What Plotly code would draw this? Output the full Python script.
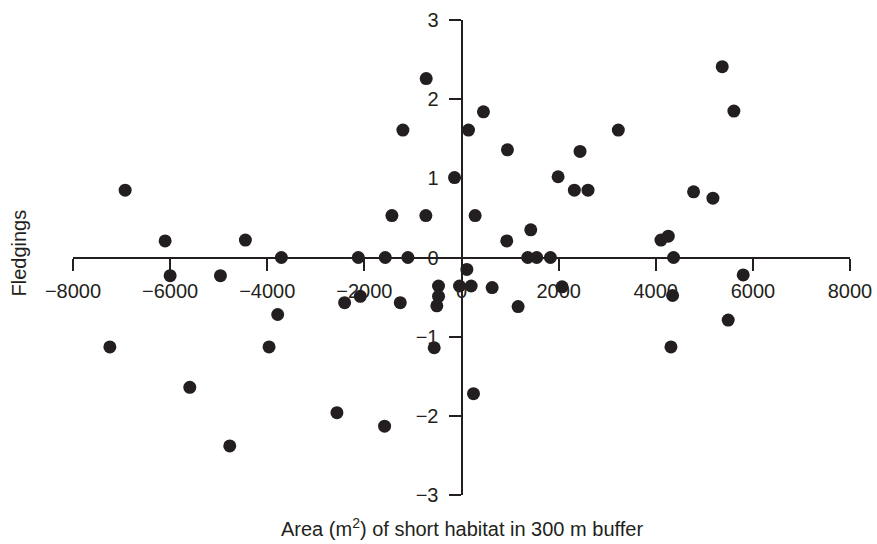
import plotly.graph_objects as go

# Area (m^2) of short habitat in 300 m buffer (centred)
area = [
    -6926, -6103, -4450, -3709, -6000, -4964, -3785, -7241, -3963, -5595,
    -4772, -727, -1207, -144, -1433, -734, -2125, -1570, -1104, -473,
    -41, -473, -508, -2084, -2407, -1261, -562, -2565, -1584,
    452, 144, 946, 281, 932, 110, 199, 631, 1166, 247,
    2441, 3229, 1989, 2324, 2605, 4779, 1426, 4107, 4258, 1364,
    1549, 1831, 4367, 2071, 4347, 5369, 5609, 5177, 5801, 5492, 4313,
]
# Fledgings (residuals)
fledgings = [
    0.85, 0.21, 0.22, 0.00, -0.23, -0.23, -0.72, -1.13, -1.13, -1.64,
    -2.38, 2.26, 1.61, 1.01, 0.53, 0.53, 0.00, 0.00, 0.00, -0.36,
    -0.36, -0.49, -0.61, -0.49, -0.57, -0.57, -1.14, -1.96, -2.13,
    1.84, 1.61, 1.36, 0.53, 0.21, -0.15, -0.36, -0.38, -0.62, -1.72,
    1.34, 1.61, 1.02, 0.85, 0.85, 0.83, 0.35, 0.22, 0.27, 0.00,
    0.00, 0.00, 0.00, -0.37, -0.48, 2.41, 1.85, 0.75, -0.22, -0.79, -1.13,
]

x_ticks = [-8000, -6000, -4000, -2000, 0, 2000, 4000, 6000, 8000]
y_ticks = [-3, -2, -1, 0, 1, 2, 3]

ink = "#231f20"
font = "Liberation Sans, Arial, Helvetica, sans-serif"

fig = go.Figure(
    go.Scatter(
        x=area, y=fledgings, mode="markers",
        marker=dict(size=13, color=ink, line=dict(width=0)),
        hoverinfo="skip", cliponaxis=False,
    )
)

fig.update_layout(
    width=877, height=544,
    margin=dict(l=73, r=27, t=20, b=49, autoexpand=False),
    paper_bgcolor="white", plot_bgcolor="white",
    showlegend=False,
    font=dict(family=font, size=20, color=ink),
    xaxis=dict(
        range=[-8000, 8000], tickvals=x_ticks,
        anchor="free", position=0.5, automargin=False,
        showline=True, linecolor=ink, linewidth=2,
        ticks="outside", ticklen=12, tickwidth=2, tickcolor=ink,
        showgrid=False, zeroline=False,
        tickfont=dict(family=font, size=20, color=ink),
        ticklabelstandoff=3,
    ),
    yaxis=dict(
        range=[-3, 3], tickvals=y_ticks,
        anchor="free", position=0.5, automargin=False,
        showline=True, linecolor=ink, linewidth=2,
        ticks="outside", ticklen=12, tickwidth=2, tickcolor=ink,
        showgrid=False, zeroline=False,
        tickfont=dict(family=font, size=20, color=ink),
        ticklabelstandoff=6,
    ),
    annotations=[
        dict(text="Area (m<sup>2</sup>) of short habitat in 300 m buffer",
             x=0.5, y=0, xref="paper", yref="paper",
             xanchor="center", yanchor="middle", yshift=-32,
             showarrow=False, font=dict(family=font, size=20, color=ink)),
        dict(text="Fledgings", x=0, y=0.5, xref="paper", yref="paper",
             xanchor="center", yanchor="middle", xshift=-55, yshift=4,
             textangle=-90, showarrow=False,
             font=dict(family=font, size=20, color=ink)),
    ],
)

fig.write_html(
    "out.html",
    config={"displayModeBar": False, "staticPlot": True},
    post_script="document.body.style.margin='0';document.body.style.overflow='hidden';",
)
